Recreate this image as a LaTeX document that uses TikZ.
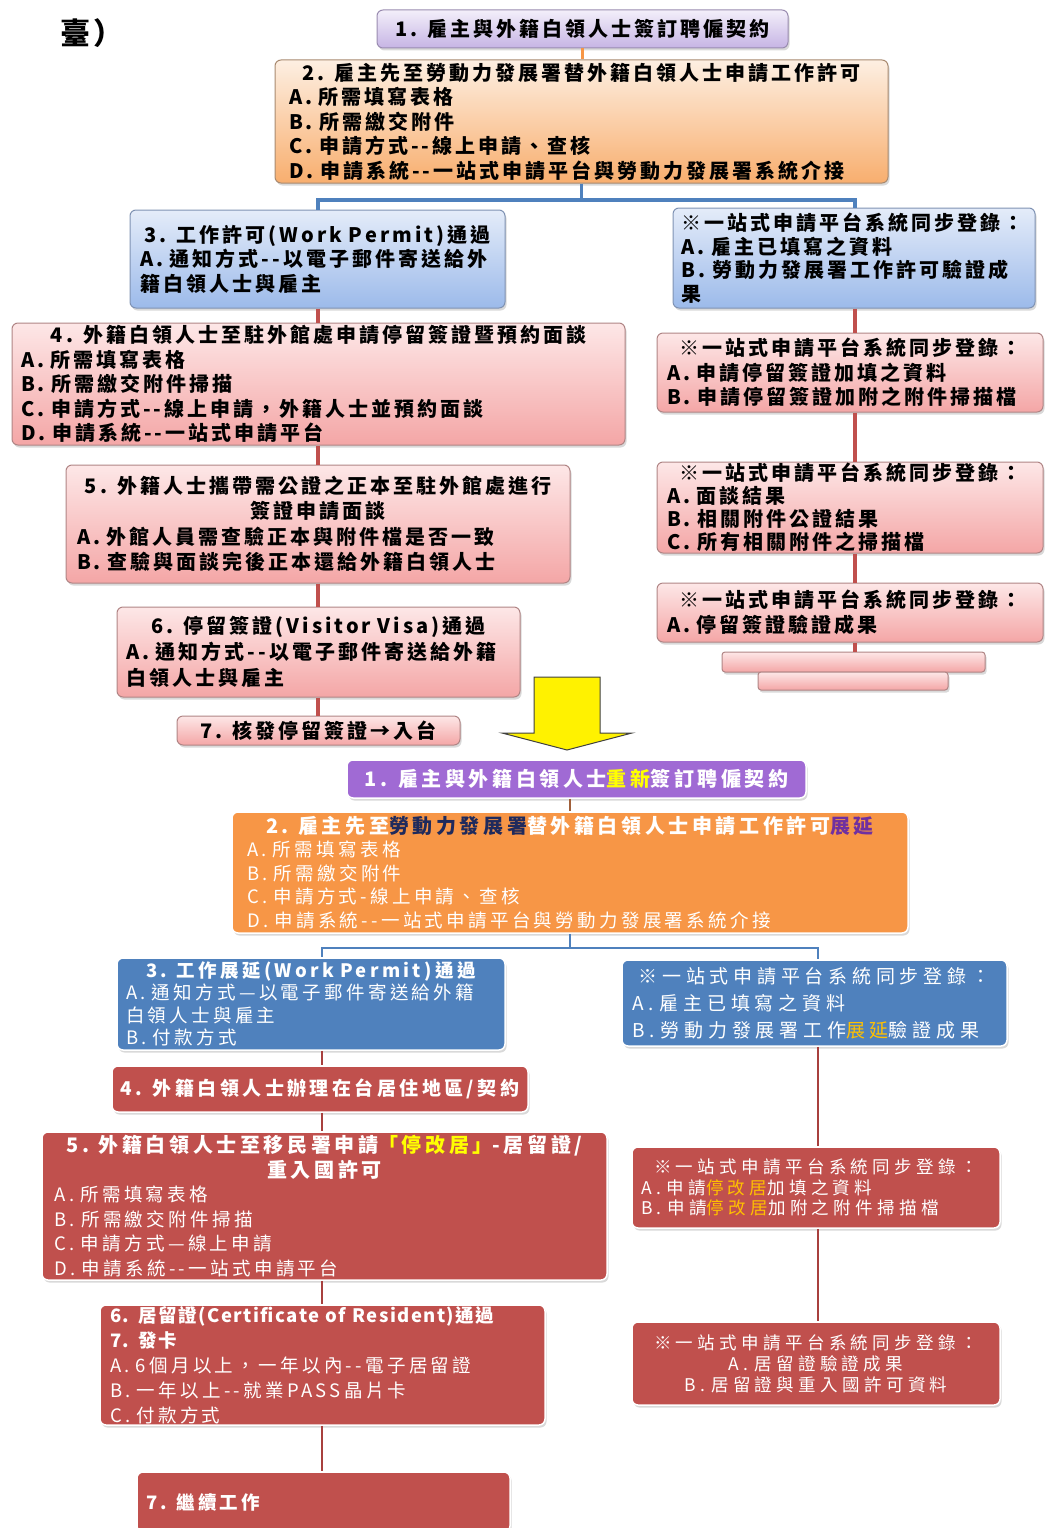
\documentclass[tikz,border=0pt]{standalone}
\usepackage{fontspec}
\newfontfamily\cjkA[LetterSpace=15]{Noto Sans CJK TC}
\newfontfamily\cjkB[LetterSpace=18]{Noto Sans CJK TC}
\newfontfamily\cjkC[LetterSpace=25]{Noto Sans CJK TC}
\newfontfamily\cjkN[LetterSpace=8]{Noto Sans CJK TC}
\usetikzlibrary{shadows}
\definecolor{tpurpT}{HTML}{F3EFFA}\definecolor{tpurpB}{HTML}{C6B4E4}\definecolor{tpurpD}{HTML}{9A8CB0}
\definecolor{torgT}{HTML}{FDEFE2}\definecolor{torgB}{HTML}{F8AE6E}\definecolor{torgD}{HTML}{A88A70}
\definecolor{tbluT}{HTML}{E4ECF9}\definecolor{tbluB}{HTML}{9CBAEA}\definecolor{tbluD}{HTML}{7F92B3}
\definecolor{tpinkT}{HTML}{FDE7E7}\definecolor{tpinkB}{HTML}{F4A6A6}\definecolor{tpinkD}{HTML}{B08585}
\definecolor{bpurp}{HTML}{A06AD4}\definecolor{borg}{HTML}{F79646}\definecolor{bblue}{HTML}{4F81BD}
\definecolor{bred}{HTML}{C0504D}\definecolor{lineorg}{HTML}{F79646}\definecolor{lineblue}{HTML}{4F81BD}
\definecolor{linered}{HTML}{C0504D}\definecolor{linebrown}{HTML}{A0603A}\definecolor{linedred}{HTML}{A8403E}
\definecolor{navy}{HTML}{1F2A5C}\definecolor{purp}{HTML}{7030A0}\definecolor{gold}{HTML}{FFC000}
\definecolor{hyel}{HTML}{FFFF00}
\tikzset{
  base/.style={rounded corners=6pt, inner sep=0pt, line width=1pt,
    drop shadow={opacity=0.3, shadow xshift=1.5pt, shadow yshift=-2.5pt}},
  tpurple/.style={base, draw=tpurpD, top color=tpurpT, bottom color=tpurpB},
  torange/.style={base, draw=torgD, top color=torgT, bottom color=torgB},
  tblue/.style={base, draw=tbluD, top color=tbluT, bottom color=tbluB},
  tpink/.style={base, draw=tpinkD, top color=tpinkT, bottom color=tpinkB},
  bbase/.style={base, draw=white, line width=1.5pt},
  bpurple/.style={bbase, fill=bpurp},
  borange/.style={bbase, fill=borg},
  bbluebox/.style={bbase, fill=bblue},
  bredbox/.style={bbase, fill=bred},
  ttext/.style={font=\cjkA\bfseries\fontsize{20}{24.5}\selectfont, text=black},
  btext/.style={font=\cjkB\fontsize{19}{24}\selectfont, text=white},
  tw/.style={text width=#1, execute at begin node={\setlength{\parindent}{0pt}}},
  wh/.style 2 args={minimum width=#1, minimum height=#2},
  conorg/.style={draw=lineorg, line width=3pt},
  conblue/.style={draw=lineblue, line width=3.5pt},
  conred/.style={draw=linered, line width=3.5pt},
  conbrown/.style={draw=linebrown, line width=1.5pt},
  conbblue/.style={draw=lineblue, line width=2.2pt},
  condred/.style={draw=linedred, line width=2pt},
}
\begin{document}
\begin{tikzpicture}[x=1pt, y=-1pt]
\useasboundingbox (0,0) rectangle (1045,1528);

% ---------- top section ----------
\node[font=\cjkN\bfseries\fontsize{30}{32}\selectfont, inner sep=0pt] (tai) at (92,33) {臺）};

\node[tpurple, ttext, wh={411pt}{38pt}] (t1) at (582.5,29) {1. 雇主與外籍白領人士簽訂聘僱契約};

\node[torange, ttext, wh={613pt}{123pt}, tw=585pt] (t2) at (581.5,121.5) {%
{\centering 2. 雇主先至勞動力發展署替外籍白領人士申請工作許可\par}
A.~所需填寫表格\par
B.~所需繳交附件\par
C.~申請方式-{}-線上申請、查核\par
D.~申請系統-{}-一站式申請平台與勞動力發展署系統介接};

\node[tblue, ttext, wh={375pt}{98pt}, tw=355pt] (t3) at (317.5,259) {%
{\centering 3. 工作許可(Work Permit)通過\par}
A.~通知方式-{}-以電子郵件寄送給外\par
籍白領人士與雇主};

\node[tblue, ttext, wh={362pt}{100pt}, tw=345pt, font=\cjkA\bfseries\fontsize{20}{23.5}\selectfont] (r1) at (854,258) {%
※一站式申請平台系統同步登錄：\par
A.~雇主已填寫之資料\par
B.~勞動力發展署工作許可驗證成\par
果};

\node[tpink, ttext, wh={613pt}{122pt}, tw=595pt] (t4) at (318.5,384) {%
{\centering 4. 外籍白領人士至駐外館處申請停留簽證暨預約面談\par}
A.~所需填寫表格\par
B.~所需繳交附件掃描\par
C.~申請方式-{}-線上申請，外籍人士並預約面談\par
D.~申請系統-{}-一站式申請平台};

\node[tpink, ttext, wh={386pt}{79pt}, tw=366pt] (r2) at (850,372.5) {%
{\centering ※一站式申請平台系統同步登錄：\par}
A.~申請停留簽證加填之資料\par
B.~申請停留簽證加附之附件掃描檔};

\node[tpink, ttext, wh={504pt}{118pt}, tw=482pt, font=\cjkA\bfseries\fontsize{20}{25.5}\selectfont] (t5) at (318,524) {%
{\centering 5. 外籍人士攜帶需公證之正本至駐外館處進行\par
簽證申請面談\par}
A.~外館人員需查驗正本與附件檔是否一致\par
B.~查驗與面談完後正本還給外籍白領人士};

\node[tpink, ttext, wh={386pt}{91pt}, tw=366pt, font=\cjkA\bfseries\fontsize{20}{23}\selectfont] (r3) at (850,507.5) {%
{\centering ※一站式申請平台系統同步登錄：\par}
A.~面談結果\par
B.~相關附件公證結果\par
C.~所有相關附件之掃描檔};

\node[tpink, ttext, wh={403pt}{90pt}, tw=385pt, font=\cjkA\bfseries\fontsize{20}{26}\selectfont] (t6) at (318.5,652) {%
{\centering 6. 停留簽證(Visitor Visa)通過\par}
A.~通知方式-{}-以電子郵件寄送給外籍\par
白領人士與雇主};

\node[tpink, ttext, wh={386pt}{59pt}, tw=366pt] (r4) at (850,612.5) {%
{\centering ※一站式申請平台系統同步登錄：\par}
A.~停留簽證驗證成果};

\node[tpink, ttext, wh={283pt}{29pt}] (t7) at (318.5,730.5) {7. 核發停留簽證→入台};

\node[tpink, wh={263pt}{20pt}, rounded corners=3pt] (bar1) at (853.5,662) {};
\node[tpink, wh={190pt}{18pt}, rounded corners=3pt] (bar2) at (853,681) {};

% top connectors
\coordinate (tj) at (0,200);
\coordinate (tl) at (318,0);
\coordinate (tr) at (855,0);
\draw[conorg] (t1.south) -- (t1.south |- t2.north);
\draw[conblue] (t2.south) -- (t2.south |- tj) -| (tl |- t3.north);
\draw[conblue] (t2.south |- tj) -| (tr |- r1.north);
\draw[conred] (tl |- t3.south) -- (tl |- t4.north);
\draw[conred] (tl |- t4.south) -- (tl |- t5.north);
\draw[conred] (tl |- t5.south) -- (tl |- t6.north);
\draw[conred] (tl |- t6.south) -- (tl |- t7.north);
\draw[conred] (tr |- r1.south) -- (tr |- r2.north);
\draw[conred] (tr |- r2.south) -- (tr |- r3.north);
\draw[conred] (tr |- r3.south) -- (tr |- r4.north);
\draw[conred] (tr |- r4.south) -- (tr |- bar1.north);

% yellow arrow
\draw[fill=yellow, draw=black!75, line width=1pt, line join=miter]
  (534,677) -- (600,677) -- (600,733) -- (632,733) -- (567,750) -- (502,733) -- (534,733) -- cycle;

% ---------- bottom section ----------
\node[bpurple, btext, font=\cjkB\bfseries\fontsize{20}{24}\selectfont, wh={459pt}{38pt}] (b1) at (576.5,779)
  {1. 雇主與外籍白領人士\textcolor{hyel}{重新}簽訂聘僱契約};

\node[borange, btext, wh={676pt}{121pt}, tw=646pt, font=\cjkB\fontsize{18.5}{23.5}\selectfont] (b2) at (570,872.5) {%
{\centering\bfseries\fontsize{20}{24}\selectfont 2. 雇主先至\textcolor{navy}{勞動力發展署}替外籍白領人士申請工作許可\textcolor{purp}{展延}\par}
A.~所需填寫表格\par
B.~所需繳交附件\par
C.~申請方式-線上申請、查核\par
D.~申請系統-{}-一站式申請平台與勞動力發展署系統介接};

\node[bbluebox, btext, wh={388pt}{92pt}, tw=370pt, font=\cjkB\fontsize{18.5}{22.5}\selectfont] (b3) at (311,1004) {%
{\centering\bfseries 3. 工作展延(Work Permit)通過\par}
A.~通知方式—以電子郵件寄送給外籍\par
白領人士與雇主\par
B.~付款方式};

\node[bbluebox, btext, wh={385pt}{86pt}, tw=365pt, font=\cjkC\fontsize{19}{27}\selectfont] (br1) at (814.5,1003) {%
{\centering ※一站式申請平台系統同步登錄：\par}
A.~雇主已填寫之資料\par
B.~勞動力發展署工作\textcolor{gold}{展延}驗證成果};

\node[bredbox, btext, font=\cjkB\bfseries\fontsize{19}{24}\selectfont, wh={416pt}{46pt}] (b4) at (320,1089)
  {4. 外籍白領人士辦理在台居住地區/契約};

\node[bredbox, btext, wh={565pt}{148pt}, tw=540pt, font=\cjkB\fontsize{18.5}{24.5}\selectfont] (b5) at (324.5,1206) {%
{\centering\bfseries\fontsize{20}{25}\selectfont 5. 外籍白領人士至移民署申請\textcolor{hyel}{「停改居」}-居留證/\par
重入國許可\par}
A.~所需填寫表格\par
B.~所需繳交附件掃描\par
C.~申請方式—線上申請\par
D.~申請系統-{}-一站式申請平台};

\node[bredbox, btext, wh={445pt}{120pt}, tw=425pt, font=\cjkB\fontsize{18.5}{25}\selectfont] (b6) at (322.5,1365) {%
{\cjkN\bfseries 6. 居留證(Certificate of Resident)通過\par
7. 發卡\par}
A.~6個月以上，一年以內-{}-電子居留證\par
B.~一年以上-{}-就業PASS晶片卡\par
C.~付款方式};

\node[bredbox, btext, font=\cjkB\bfseries\fontsize{18.5}{24}\selectfont, wh={373pt}{60pt}, tw=355pt] (b7) at (323.5,1502)
  {7. 繼續工作};

\node[bredbox, btext, wh={368pt}{81pt}, tw=350pt, font=\cjkC\fontsize{17.5}{20.5}\selectfont] (br2) at (816,1187.5) {%
{\centering ※一站式申請平台系統同步登錄：\par}
A.~申請\textcolor{gold}{停改居}加填之資料\par
B.~申請\textcolor{gold}{停改居}加附之附件掃描檔};

\node[bredbox, btext, wh={368pt}{83pt}, tw=350pt, font=\cjkC\fontsize{17.5}{21}\selectfont] (br3) at (816,1363.5) {%
\centering ※一站式申請平台系統同步登錄：\par
A.~居留證驗證成果\par
B.~居留證與重入國許可資料\par};

% bottom connectors
\coordinate (bj) at (0,948);
\coordinate (bl) at (322,0);
\coordinate (brr) at (818,0);
\draw[conbrown] (b1.south -| b2.north) -- (b2.north);
\draw[conbblue] (b2.south) -- (b2.south |- bj) -| (bl |- b3.north);
\draw[conbblue] (b2.south |- bj) -| (brr |- br1.north);
\draw[condred] (bl |- b3.south) -- (bl |- b4.north);
\draw[condred] (bl |- b4.south) -- (bl |- b5.north);
\draw[condred] (bl |- b5.south) -- (bl |- b6.north);
\draw[condred] (bl |- b6.south) -- (bl |- b7.north);
\draw[condred] (brr |- br1.south) -- (brr |- br2.north);
\draw[condred] (brr |- br2.south) -- (brr |- br3.north);
\end{tikzpicture}
\end{document}
